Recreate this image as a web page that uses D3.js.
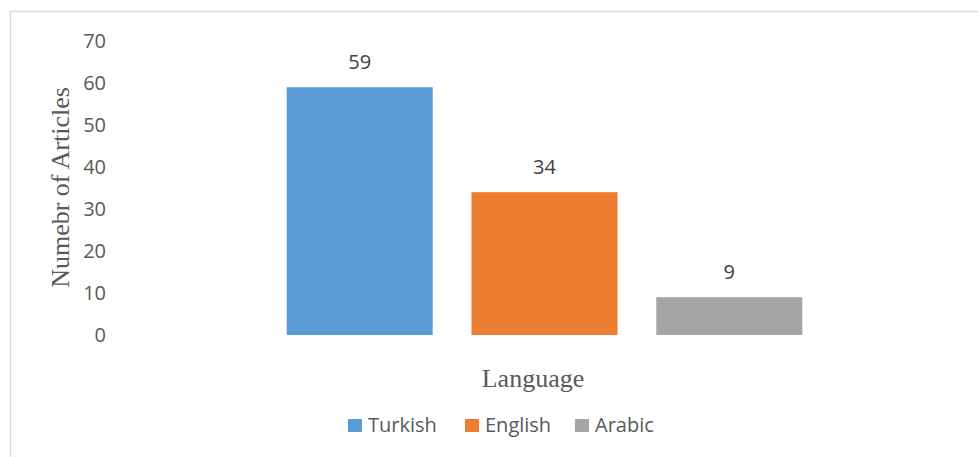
<!DOCTYPE html>
<html>
<head>
<meta charset="utf-8">
<script src="https://cdn.jsdelivr.net/npm/d3@7"></script>
<style>
  body { margin: 0; background: #fff; }
  svg { display: block; }
</style>
</head>
<body>
<svg id="chart" width="978" height="457"></svg>
<script>
// data
const languages = ["Turkish", "English", "Arabic"];
const articleCounts = [59, 34, 9];
const barColors = ["#5B9BD5", "#ED7D31", "#A5A5A5"];
const yTicks = [0, 10, 20, 30, 40, 50, 60, 70];

const width = 978, height = 457;
const svg = d3.select("#chart");

// chart frame (right and bottom edges fall outside the picture)
svg.append("rect")
    .attr("x", 10.5).attr("y", 11.5)
    .attr("width", width + 10).attr("height", height + 10)
    .attr("fill", "none")
    .attr("stroke", "#d9d9d9")
    .attr("stroke-width", 1.5);

const x = d3.scaleBand()
    .domain(languages)
    .range([113, 976])
    .paddingInner(0.21)
    .paddingOuter(0.94);

const y = d3.scaleLinear().domain([0, 70]).range([335, 41]);

// y axis labels only
const yAxis = d3.axisLeft(y).tickValues(yTicks).tickSize(0).tickPadding(6);
const gy = svg.append("g")
    .attr("transform", "translate(112,0)")
    .call(yAxis);
gy.select(".domain").remove();
gy.selectAll("text")
    .attr("fill", "#595959")
    .style("font-family", "'Open Sans', sans-serif")
    .style("font-size", "20px");

// bars
const rows = languages.map((l, i) => ({ lang: l, value: articleCounts[i], color: barColors[i] }));

svg.append("g").selectAll("rect")
    .data(rows)
    .join("rect")
    .attr("x", d => x(d.lang))
    .attr("y", d => y(d.value))
    .attr("width", x.bandwidth())
    .attr("height", d => y(0) - y(d.value))
    .attr("fill", d => d.color);

// data labels
svg.append("g").selectAll("text")
    .data(rows)
    .join("text")
    .attr("x", d => x(d.lang) + x.bandwidth() / 2)
    .attr("y", d => y(d.value) - 18.5)
    .attr("text-anchor", "middle")
    .attr("fill", "#404040")
    .style("font-family", "'Open Sans', sans-serif")
    .style("font-size", "20px")
    .text(d => d.value);

// axis titles
svg.append("text")
    .attr("transform", "translate(69,187.5) rotate(-90)")
    .attr("text-anchor", "middle")
    .attr("fill", "#595959")
    .style("font-family", "'Liberation Serif', 'Times New Roman', serif")
    .style("font-size", "26px")
    .text("Numebr of Articles");

svg.append("text")
    .attr("x", 533).attr("y", 387)
    .attr("text-anchor", "middle")
    .attr("fill", "#595959")
    .style("font-family", "'Liberation Serif', 'Times New Roman', serif")
    .style("font-size", "26px")
    .text("Language");

// legend
const legendX = [348, 465, 575];
const legend = svg.append("g").selectAll("g")
    .data(rows)
    .join("g")
    .attr("transform", (d, i) => `translate(${legendX[i]},419)`);
legend.append("rect")
    .attr("width", 14).attr("height", 13)
    .attr("fill", d => d.color);
legend.append("text")
    .attr("x", 20).attr("y", 13)
    .attr("fill", "#595959")
    .style("font-family", "'Open Sans', sans-serif")
    .style("font-size", "20px")
    .text(d => d.lang);
</script>
</body>
</html>
